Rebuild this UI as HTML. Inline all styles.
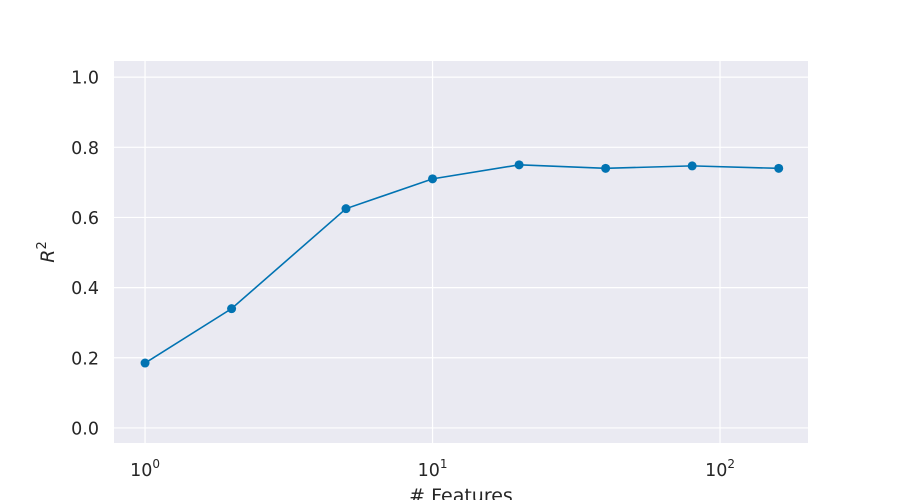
<!DOCTYPE html>
<html><head><meta charset="utf-8"><style>
body{margin:0;background:#fff;}
svg{display:block;font-family:"DejaVu Sans","Liberation Sans",sans-serif;}
</style></head><body>
<svg id="chart" width="900" height="500">
<rect x="114" y="61" width="694" height="382" fill="#eaeaf2"/>
<g id="grid"></g><g id="ticks"></g><g id="series"></g>
<text x="461" y="502" text-anchor="middle" font-size="19" fill="#262626"># Features</text>
<text transform="translate(54,252) rotate(-90)" text-anchor="middle" font-size="19" fill="#262626" font-style="italic">R<tspan dy="-8" font-size="13" font-style="normal">2</tspan></text>
</svg>
<script>
const features=[1,2,5,10,20,40,80,160];
const r2=[0.185,0.34,0.625,0.71,0.75,0.74,0.747,0.74];
const yTicks=[0,0.2,0.4,0.6,0.8,1.0];
const yTickLabels=["0.0","0.2","0.4","0.6","0.8","1.0"];
const xTickExps=[0,1,2];
const NS="http://www.w3.org/2000/svg";
const L=114,R=808,T=61,B=443;
const xMin=-0.108,xMax=2.306,yMin=-0.043,yMax=1.046;
const xs=v=>L+(Math.log10(v)-xMin)/(xMax-xMin)*(R-L);
const ys=v=>B-(v-yMin)/(yMax-yMin)*(B-T);
function mk(tag,attrs,parent){const e=document.createElementNS(NS,tag);for(const k in attrs)e.setAttribute(k,attrs[k]);parent.appendChild(e);return e;}
const grid=document.getElementById('grid'),ticks=document.getElementById('ticks'),ser=document.getElementById('series');
yTicks.forEach((t,i)=>{
 const y=ys(t);
 const g=mk('line',{x1:L,x2:R,y1:y,y2:y,stroke:'#fff','stroke-width':1.2},grid);
 
 
 const tx=mk('text',{x:99,y:y+6.5,'text-anchor':'end','font-size':17.5,fill:'#262626'},ticks);
 tx.textContent=yTickLabels[i];
 
 
});
xTickExps.forEach(e=>{
 const x=xs(Math.pow(10,e));
 const g=mk('line',{x1:x,x2:x,y1:T,y2:B,stroke:'#fff','stroke-width':1.2},grid);
 
 
 const tx=mk('text',{x:x,y:476,'text-anchor':'middle','font-size':17.5,fill:'#262626'},ticks);
 tx.innerHTML='10<tspan dy="-8" font-size="12">'+e+'</tspan>';
 
 
});
const pts=features.map((f,i)=>xs(f)+','+ys(r2[i])).join(' ');
const line=mk('polyline',{points:pts,fill:'none',stroke:'#0173b2','stroke-width':1.6},ser);


features.forEach((f,i)=>{
 const c=mk('circle',{cx:xs(f),cy:ys(r2[i]),r:4.5,fill:'#0173b2'},ser);
 
 
});
</script>
</body></html>
